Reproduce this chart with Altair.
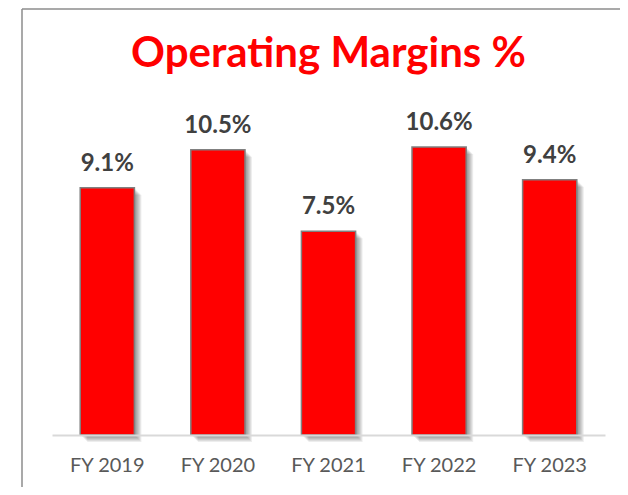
import altair as alt
import pandas as pd

years = ["FY 2019", "FY 2020", "FY 2021", "FY 2022", "FY 2023"]
margins = [9.1, 10.5, 7.5, 10.6, 9.4]
labels = ["9.1%", "10.5%", "7.5%", "10.6%", "9.4%"]
title_text = ["Operating Margins %"]

df = pd.DataFrame({"year": years, "margin": margins, "label": labels})

W, H = 553, 326
PAD = {"left": 44, "top": 101, "right": 15, "bottom": 52}

x = alt.X(
    "year:N", sort=years, title=None,
    scale=alt.Scale(paddingInner=0.51, paddingOuter=0.255),
    axis=alt.Axis(labelAngle=0, labelFont="Lato", labelFontSize=20,
                  labelColor="#595959", ticks=False, domainColor="#d9d9d9",
                  domainWidth=2, labelPadding=20, zindex=1),
)
y = alt.Y("margin:Q", scale=alt.Scale(domain=[0, 12], nice=False), axis=None)

base = alt.Chart(df).encode(x=x, y=y)

shadows = [
    base.mark_bar(color="#000000", opacity=0.07, xOffset=k, yOffset=k)
    for k in range(1, 8)
]

bars = base.mark_bar(color="#FF0000", stroke="#808080", strokeWidth=1.5)

text = base.mark_text(font="Lato", fontWeight="bold", fontSize=24,
                      color="#404040", baseline="alphabetic", dy=-17).encode(
    text="label:N")

one = pd.DataFrame({"a": [0]})
top_rule = alt.Chart(one).mark_rule(color="#8c8c8c", strokeWidth=1.5).encode(
    x=alt.value(-30), x2=alt.value(W + PAD["right"]), y=alt.value(-100))
left_rule = alt.Chart(one).mark_rule(color="#8c8c8c", strokeWidth=1.5).encode(
    x=alt.value(-30), y=alt.value(-100), y2=alt.value(H + PAD["bottom"]))

title = alt.Chart(pd.DataFrame({"t": title_text})).mark_text(
    font="Lato", fontSize=42, fontWeight="bold", color="#FF0000",
    align="center", baseline="alphabetic").encode(
    x=alt.value(W / 2), y=alt.value(-42), text="t:N")

chart = alt.layer(*shadows, bars, text, top_rule, left_rule, title).properties(
    width=W, height=H, padding=PAD,
    autosize=alt.AutoSizeParams(type="none"),
).configure_view(stroke=None)

chart.save("out.html", embed_options={"renderer": "svg", "actions": False})
